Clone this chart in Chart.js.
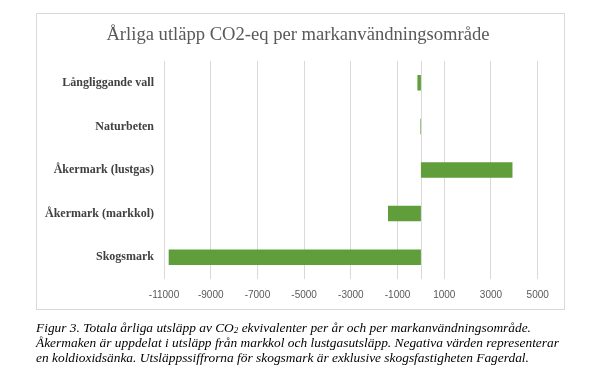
<!DOCTYPE html>
<html>
<head>
<meta charset="utf-8">
<script src="https://cdn.jsdelivr.net/npm/chart.js@4"></script>
<style>
  html, body { margin: 0; padding: 0; background: #fff; }
  body { width: 595px; height: 384px; position: relative; overflow: hidden; }
  #frame { position: absolute; left: 36px; top: 13px; width: 529px; height: 297px; box-sizing: border-box; border: 1px solid #d9d9d9; }
  #wrap { position: absolute; left: 0; top: 0; width: 595px; height: 384px; }
  #caption { position: absolute; left: 36px; top: 320px; font-family: "Liberation Serif", "Times New Roman", serif; font-style: italic; font-size: 13.4px; line-height: 15px; color: #000; white-space: nowrap; }
  #caption sub { font-size: 9px; line-height: 0; vertical-align: -1px; }
</style>
</head>
<body>
<div id="frame"></div>
<div id="wrap"><canvas id="c" width="595" height="384"></canvas></div>
<div id="caption">Figur 3. Totala årliga utsläpp av CO<sub>2</sub> ekvivalenter per år och per markanvändningsområde.<br>Åkermaken är uppdelat i utsläpp från markkol och lustgasutsläpp. Negativa värden representerar<br>en koldioxidsänka. Utsläppssiffrorna för skogsmark är exklusive skogsfastigheten Fagerdal.</div>
<script>
const categories = ["Långliggande vall", "Naturbeten", "Åkermark (lustgas)", "Åkermark (markkol)", "Skogsmark"];
const emissions = [-150, -25, 3920, -1410, -10800];
const chartTitle = "Årliga utläpp CO2-eq per markanvändningsområde";
const xMin = -11000, xMax = 5000, xStep = 2000;

const zeroLine = {
  id: 'zeroLine',
  beforeDatasetsDraw(chart) {
    const x = chart.scales.x.getPixelForValue(0);
    const { top, bottom } = chart.chartArea;
    const ctx = chart.ctx;
    ctx.save();
    ctx.strokeStyle = '#d9d9d9';
    ctx.lineWidth = 1;
    ctx.beginPath();
    ctx.moveTo(Math.round(x) + 0.5, top);
    ctx.lineTo(Math.round(x) + 0.5, bottom);
    ctx.stroke();
    ctx.restore();
  }
};

new Chart(document.getElementById('c'), {
  type: 'bar',
  data: {
    labels: categories,
    datasets: [{
      data: emissions,
      backgroundColor: '#5f9e3a',
      borderWidth: 0,
      categoryPercentage: 1,
      barPercentage: 0.355
    }]
  },
  plugins: [zeroLine],
  options: {
    indexAxis: 'y',
    responsive: false,
    animation: false,
    devicePixelRatio: 1,
    layout: { padding: { left: 1, right: 0, top: 0, bottom: 0 } },
    plugins: {
      legend: { display: false },
      tooltip: { enabled: false },
      title: {
        display: true,
        text: chartTitle,
        color: '#595959',
        font: { family: '"Liberation Serif", "Times New Roman", serif', size: 18.6, weight: 'normal' },
        padding: { top: 24, bottom: 14.7 }
      }
    },
    scales: {
      x: {
        type: 'linear',
        min: xMin,
        max: xMax,
        ticks: {
          stepSize: xStep,
          color: '#595959',
          font: { family: '"Liberation Sans", Arial, sans-serif', size: 10 },
          padding: 10,
          maxRotation: 0,
          callback: (v) => String(v)
        },
        grid: { color: '#d9d9d9', lineWidth: 1, drawTicks: false },
        border: { display: false },
        afterFit(scale) { scale.height = 105; }
      },
      y: {
        ticks: {
          color: '#404040',
          font: { family: '"Liberation Serif", "Times New Roman", serif', size: 12, weight: 'bold' },
          padding: 10
        },
        grid: { display: false, drawTicks: false },
        border: { display: false },
        afterFit(scale) { scale.width = 163; }
      },
      yRight: {
        type: 'linear',
        position: 'right',
        display: true,
        ticks: { display: false },
        grid: { display: false, drawTicks: false },
        border: { display: false },
        afterFit(scale) { scale.width = 57.3; }
      }
    }
  }
});
</script>
</body>
</html>
